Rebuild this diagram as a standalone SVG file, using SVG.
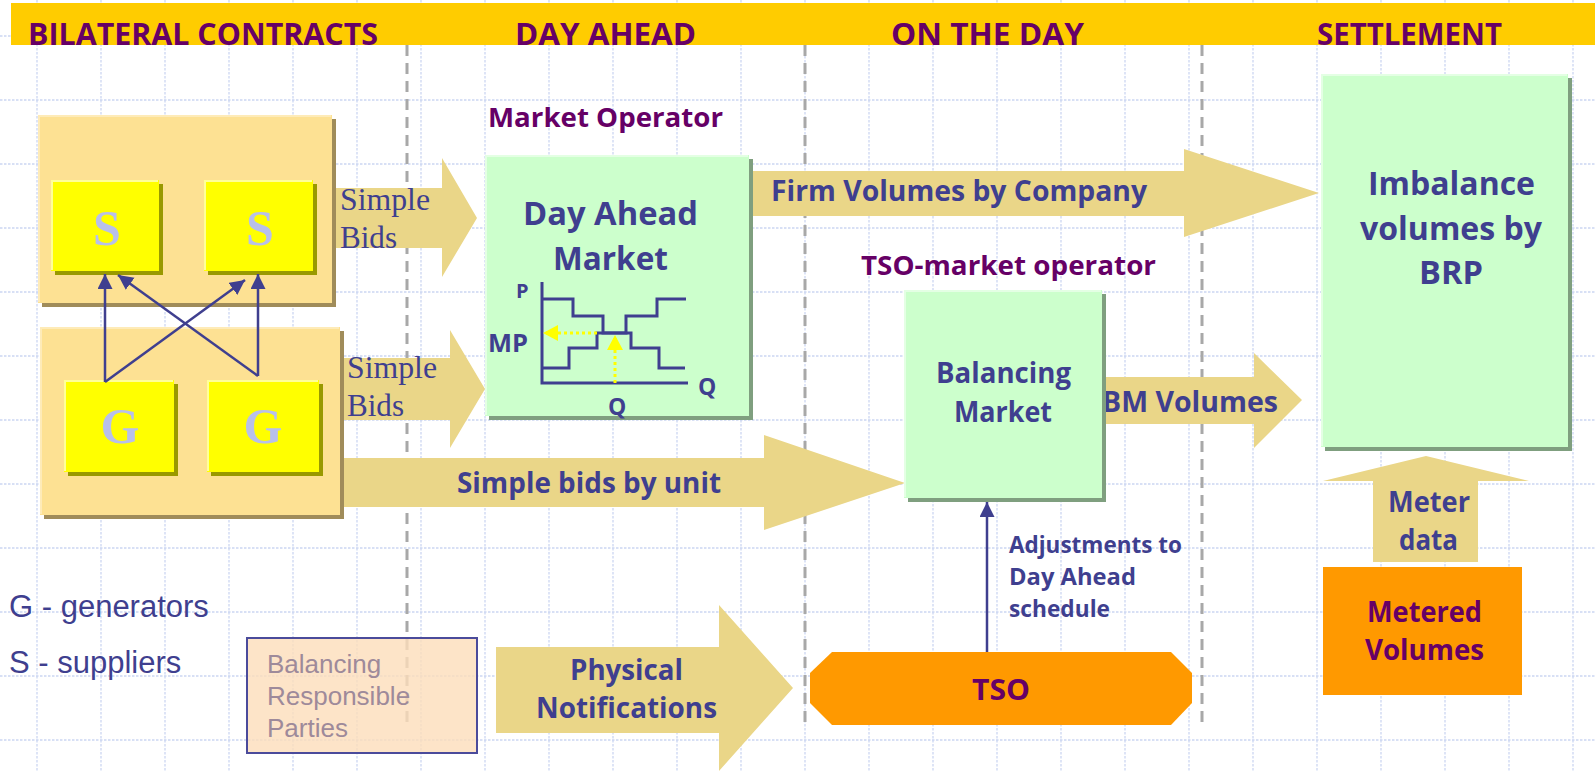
<svg xmlns="http://www.w3.org/2000/svg" width="1595" height="772" viewBox="0 0 1595 772">
<defs>
<style>
.grid{fill:none;stroke:#CCD6F2;stroke-width:1.3;stroke-dasharray:2.5 1.5}
.div{fill:none;stroke:#A8A8A8;stroke-width:3;stroke-dasharray:11 7}
.hdr{font-family:"Open Sans","DejaVu Sans",sans-serif;font-weight:700;font-size:31px;fill:#660066}
.ttl{font-family:"Open Sans","DejaVu Sans",sans-serif;font-weight:700;font-size:27px;fill:#660066}
.nb{font-family:"Open Sans","DejaVu Sans",sans-serif;font-weight:700;fill:#3F3F8F}
.pb{font-family:"Open Sans","DejaVu Sans",sans-serif;font-weight:700;fill:#660066}
.ser{font-family:"Liberation Serif","Times New Roman",serif;font-size:31px;fill:#3F3F8F}
.let{font-family:"Liberation Serif","Times New Roman",serif;font-weight:700;font-size:50px;fill:#B8C0EA;text-anchor:middle}
.leg{font-family:"Liberation Sans",Arial,sans-serif;font-size:31px;fill:#3F3F8F}
.brp{font-family:"Liberation Sans",Arial,sans-serif;font-size:26px;fill:#9E8A9A}
.blk{fill:#EAD688}
.navy{fill:none;stroke:#3F3F8F;stroke-width:2.5}
.bisque{fill:#FDE193}
.bshadow{fill:#A08C5A}
.yel{fill:#FFFF00}
.yshadow{fill:#999900}
.green{fill:#CCFFCC}
.gshadow{fill:#7F9F7F}
.orange{fill:#FF9900}
</style>
<marker id="ah" markerUnits="userSpaceOnUse" markerWidth="16" markerHeight="16" refX="15" refY="7.5" orient="auto">
<path d="M0,0 L15,7.5 L0,15 z" fill="#3F3F8F"/>
</marker>
<marker id="ay" markerUnits="userSpaceOnUse" markerWidth="16" markerHeight="18" refX="15" refY="8" orient="auto">
<path d="M0,0 L15,8 L0,16 z" fill="#FFFF00"/>
</marker>
</defs>
<rect width="1595" height="772" fill="#FFFFFF"/>
<g id="grid">
<path class="grid" d="M37,0V772M101,0V772M165,0V772M229,0V772M293,0V772M357,0V772M421,0V772M485,0V772M549,0V772M613,0V772M677,0V772M741,0V772M805,0V772M869,0V772M933,0V772M997,0V772M1061,0V772M1125,0V772M1189,0V772M1253,0V772M1317,0V772M1381,0V772M1445,0V772M1509,0V772M1573,0V772"/>
<path class="grid" d="M0,36H1595M0,100H1595M0,164H1595M0,228H1595M0,292H1595M0,356H1595M0,420H1595M0,484H1595M0,548H1595M0,612H1595M0,676H1595M0,740H1595"/>
</g>
<g id="header">
<rect x="11" y="3" width="1584" height="42" fill="#FFCC00"/>
<text class="hdr" x="28" y="45" textLength="350" lengthAdjust="spacingAndGlyphs">BILATERAL CONTRACTS</text>
<text class="hdr" x="515" y="45" textLength="181" lengthAdjust="spacingAndGlyphs">DAY AHEAD</text>
<text class="hdr" x="891" y="45" textLength="193" lengthAdjust="spacingAndGlyphs">ON THE DAY</text>
<text class="hdr" x="1317" y="45" textLength="185" lengthAdjust="spacingAndGlyphs">SETTLEMENT</text>
</g>
<g id="dividers">
<path class="div" d="M407,45V729M805,45V729M1202,45V729"/>
</g>
<g id="connectors">
<path class="blk" d="M336,188H442V158L477,218L442,277V248H336Z"/>
<path class="blk" d="M343,358H450V330L485,389L450,448V420H343Z"/>
<path class="blk" d="M341,458H764V435L905,483L764,530V507H341Z"/>
<path class="blk" d="M753,171H1184V149L1319,193L1184,237V216H753Z"/>
<path class="blk" d="M1104,377H1254V353L1302,400L1254,448V424H1104Z"/>
<path class="blk" d="M496,647H719V605L793,688L719,771V733H496Z"/>
<path class="blk" d="M1373,562V481H1323L1426,456L1529,481H1478V562Z"/>
<text class="ser" x="340" y="210" textLength="90" lengthAdjust="spacingAndGlyphs">Simple</text>
<text class="ser" x="340" y="248" textLength="57" lengthAdjust="spacingAndGlyphs">Bids</text>
<text class="ser" x="347" y="378" textLength="90" lengthAdjust="spacingAndGlyphs">Simple</text>
<text class="ser" x="347" y="416" textLength="57" lengthAdjust="spacingAndGlyphs">Bids</text>
<text class="nb" x="457" y="493" font-size="29" textLength="264" lengthAdjust="spacingAndGlyphs">Simple bids by unit</text>
<text class="nb" x="771" y="201" font-size="28" textLength="376" lengthAdjust="spacingAndGlyphs">Firm Volumes by Company</text>
<text class="nb" x="1102" y="412" font-size="29" textLength="176" lengthAdjust="spacingAndGlyphs">BM Volumes</text>
<text class="nb" x="570" y="680" font-size="29" textLength="113" lengthAdjust="spacingAndGlyphs">Physical</text>
<text class="nb" x="536" y="718" font-size="29" textLength="181" lengthAdjust="spacingAndGlyphs">Notifications</text>
<text class="nb" x="1388" y="512" font-size="28" textLength="82" lengthAdjust="spacingAndGlyphs">Meter</text>
<text class="nb" x="1399" y="550" font-size="28" textLength="59" lengthAdjust="spacingAndGlyphs">data</text>
<line class="navy" x1="987" y1="652" x2="987" y2="502" marker-end="url(#ah)"/>
<text class="nb" x="1009" y="553" font-size="23" textLength="173" lengthAdjust="spacingAndGlyphs">Adjustments to</text>
<text class="nb" x="1009" y="585" font-size="23" textLength="127" lengthAdjust="spacingAndGlyphs">Day Ahead</text>
<text class="nb" x="1009" y="617" font-size="23" textLength="101" lengthAdjust="spacingAndGlyphs">schedule</text>
</g>
<g id="bilateral-suppliers">
<rect class="bshadow" x="42" y="119" width="294" height="188"/>
<rect class="bisque" x="38" y="115" width="294" height="188"/>
<path d="M39,302V116H331" fill="none" stroke="#FEEBB8" stroke-width="2"/>
</g>
<g id="bilateral-generators">
<rect class="bshadow" x="44" y="331" width="300" height="188"/>
<rect class="bisque" x="40" y="327" width="300" height="188"/>
<path d="M41,514V328H339" fill="none" stroke="#FEEBB8" stroke-width="2"/>
</g>
<g id="s1">
<rect class="yshadow" x="55" y="184" width="108" height="91"/>
<rect class="yel" x="51" y="180" width="108" height="91"/>
<path d="M52,270V181H158" fill="none" stroke="#FFFF99" stroke-width="2"/>
<text class="let" x="107" y="245">S</text>
</g>
<g id="s2">
<rect class="yshadow" x="208" y="184" width="109" height="91"/>
<rect class="yel" x="204" y="180" width="109" height="91"/>
<path d="M205,270V181H312" fill="none" stroke="#FFFF99" stroke-width="2"/>
<text class="let" x="260" y="245">S</text>
</g>
<g id="g1">
<rect class="yshadow" x="68" y="384" width="110" height="92"/>
<rect class="yel" x="64" y="380" width="110" height="92"/>
<path d="M65,471V381H173" fill="none" stroke="#FFFF99" stroke-width="2"/>
<text class="let" x="120" y="443">G</text>
</g>
<g id="g2">
<rect class="yshadow" x="211" y="384" width="112" height="92"/>
<rect class="yel" x="207" y="380" width="112" height="92"/>
<path d="M208,471V381H318" fill="none" stroke="#FFFF99" stroke-width="2"/>
<text class="let" x="263" y="443">G</text>
</g>
<g id="gs-links">
<line class="navy" x1="105" y1="382" x2="105" y2="274" marker-end="url(#ah)"/>
<line class="navy" x1="105" y1="382" x2="245" y2="280" marker-end="url(#ah)"/>
<line class="navy" x1="258" y1="376" x2="258" y2="274" marker-end="url(#ah)"/>
<line class="navy" x1="258" y1="376" x2="118" y2="275" marker-end="url(#ah)"/>
</g>
<g id="day-ahead-market">
<text class="ttl" x="488" y="127" textLength="235" lengthAdjust="spacingAndGlyphs">Market Operator</text>
<rect class="gshadow" x="489" y="159" width="264" height="261"/>
<rect class="green" x="485" y="155" width="264" height="261"/>
<path d="M486,415V156H748" fill="none" stroke="#E4FFE4" stroke-width="2"/>
<text class="nb" x="523" y="225" font-size="32" textLength="175" lengthAdjust="spacingAndGlyphs">Day Ahead</text>
<text class="nb" x="553" y="270" font-size="32" textLength="115" lengthAdjust="spacingAndGlyphs">Market</text>
<path d="M542,282V383H688" fill="none" stroke="#3F3F8F" stroke-width="3"/>
<path d="M542,299H573V316H603V333H631V348H659V368H685" fill="none" stroke="#3F3F8F" stroke-width="3"/>
<path d="M542,368H569V348H597V333H626V316H657V299H686" fill="none" stroke="#3F3F8F" stroke-width="3"/>
<line x1="597" y1="333" x2="543" y2="333" stroke="#FFFF00" stroke-width="3" stroke-dasharray="3 3" marker-end="url(#ay)"/>
<line x1="615" y1="383" x2="615" y2="335" stroke="#FFFF00" stroke-width="3" stroke-dasharray="3 3" marker-end="url(#ay)"/>
<text class="nb" x="516" y="298" font-size="20">P</text>
<text class="nb" x="488" y="352" font-size="25" textLength="40" lengthAdjust="spacingAndGlyphs">MP</text>
<text class="nb" x="698" y="395" font-size="23">Q</text>
<text class="nb" x="608" y="415" font-size="23">Q</text>
</g>
<g id="balancing-market">
<text class="ttl" x="861" y="275" textLength="295" lengthAdjust="spacingAndGlyphs">TSO-market operator</text>
<rect class="gshadow" x="908" y="294" width="198" height="208"/>
<rect class="green" x="904" y="290" width="198" height="208"/>
<path d="M905,497V291H1101" fill="none" stroke="#E4FFE4" stroke-width="2"/>
<text class="nb" x="936" y="383" font-size="28" textLength="135" lengthAdjust="spacingAndGlyphs">Balancing</text>
<text class="nb" x="954" y="422" font-size="28" textLength="98" lengthAdjust="spacingAndGlyphs">Market</text>
</g>
<g id="imbalance">
<rect class="gshadow" x="1325" y="78" width="247" height="373"/>
<rect class="green" x="1321" y="74" width="247" height="373"/>
<path d="M1322,446V75H1567" fill="none" stroke="#E4FFE4" stroke-width="2"/>
<text class="nb" x="1368" y="195" font-size="32" textLength="167" lengthAdjust="spacingAndGlyphs">Imbalance</text>
<text class="nb" x="1360" y="240" font-size="32" textLength="182" lengthAdjust="spacingAndGlyphs">volumes by</text>
<text class="nb" x="1419" y="284" font-size="32" textLength="64" lengthAdjust="spacingAndGlyphs">BRP</text>
</g>
<g id="metered-volumes">
<rect class="orange" x="1323" y="567" width="199" height="128"/>
<text class="pb" x="1367" y="622" font-size="28" textLength="115" lengthAdjust="spacingAndGlyphs">Metered</text>
<text class="pb" x="1365" y="660" font-size="28" textLength="119" lengthAdjust="spacingAndGlyphs">Volumes</text>
</g>
<g id="tso">
<path class="orange" d="M832,652H1171L1192,673V703L1171,725H832L810,703V673Z"/>
<text class="pb" x="972" y="700" font-size="29" textLength="58" lengthAdjust="spacingAndGlyphs">TSO</text>
</g>
<g id="brp">
<rect x="247" y="638" width="230" height="115" fill="#FDDDBA" fill-opacity="0.8" stroke="#4B4B9B" stroke-width="2"/>
<text class="brp" x="267" y="673">Balancing</text>
<text class="brp" x="267" y="705">Responsible</text>
<text class="brp" x="267" y="737">Parties</text>
</g>
<g id="legend">
<text class="leg" x="9" y="617">G - generators</text>
<text class="leg" x="9" y="673">S - suppliers</text>
</g>
</svg>
